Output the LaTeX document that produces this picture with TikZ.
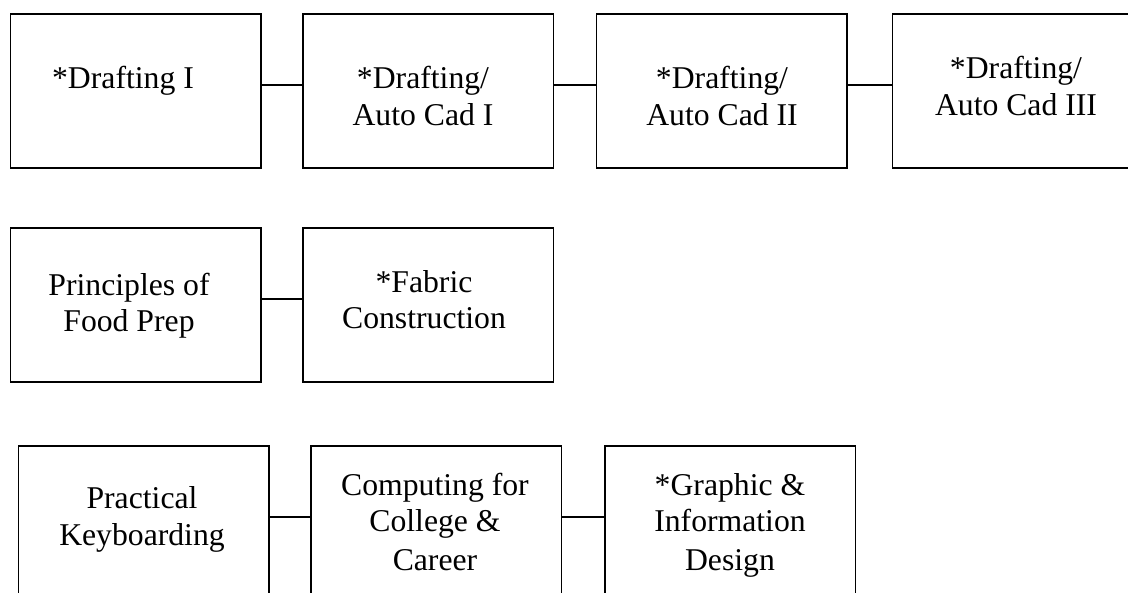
\documentclass[tikz,border=0pt]{standalone}
\usepackage{fontspec}
\setmainfont{Liberation Serif}
\begin{document}
\begin{tikzpicture}[x=1pt,y=-1pt,
  box/.style={draw=black, line width=1.6pt, rectangle, inner sep=0pt,
    minimum width=250.5pt, minimum height=154pt, anchor=north west},
  lbl/.style={anchor=base, inner sep=0pt, font=\fontsize{31.7}{37}\selectfont},
  link/.style={draw=black, line width=1.6pt}]
\useasboundingbox (0,0) rectangle (1128,593);
\clip (0,0) rectangle (1128,593);
% row 1
\node[box] (b1) at (9.6,13) {};
\node[box] (b2) at (302,13) {};
\node[box] (b3) at (595.5,13) {};
\node[box] (b4) at (891.5,13) {};
% row 2
\node[box] (b5) at (9.6,227) {};
\node[box] (b6) at (302,227) {};
% row 3
\node[box] (b7) at (17.5,445) {};
\node[box] (b8) at (310,445) {};
\node[box] (b9) at (604,445) {};
% connectors
\draw[link] ([yshift=6pt]b1.east) -- ([yshift=6pt]b2.west);
\draw[link] ([yshift=6pt]b2.east) -- ([yshift=6pt]b3.west);
\draw[link] ([yshift=6pt]b3.east) -- ([yshift=6pt]b4.west);
\draw[link] ([yshift=6pt]b5.east) -- ([yshift=6pt]b6.west);
\draw[link] ([yshift=6pt]b7.east) -- ([yshift=6pt]b8.west);
\draw[link] ([yshift=6pt]b8.east) -- ([yshift=6pt]b9.west);
% labels
\node[lbl] (t1a) at (123,89) {*Drafting I};
\node[lbl] (t2a) at (423,89) {*Drafting/};
\node[lbl] (t2b) at (423,126) {Auto Cad I};
\node[lbl] (t3a) at (722,89) {*Drafting/};
\node[lbl] (t3b) at (722,126) {Auto Cad II};
\node[lbl] (t4a) at (1016,79) {*Drafting/};
\node[lbl] (t4b) at (1016,116) {Auto Cad III};
\node[lbl] (t5a) at (129,296) {Principles of};
\node[lbl] (t5b) at (129,332) {Food Prep};
\node[lbl] (t6a) at (424,293) {*Fabric};
\node[lbl] (t6b) at (424,329) {Construction};
\node[lbl] (t7a) at (142,509) {Practical};
\node[lbl] (t7b) at (142,546) {Keyboarding};
\node[lbl] (t8a) at (435,496) {Computing for};
\node[lbl] (t8b) at (435,532) {College \&};
\node[lbl] (t8c) at (435,570) {Career};
\node[lbl] (t9a) at (730,496) {*Graphic \&};
\node[lbl] (t9b) at (730,532) {Information};
\node[lbl] (t9c) at (730,570) {Design};
\end{tikzpicture}
\end{document}
